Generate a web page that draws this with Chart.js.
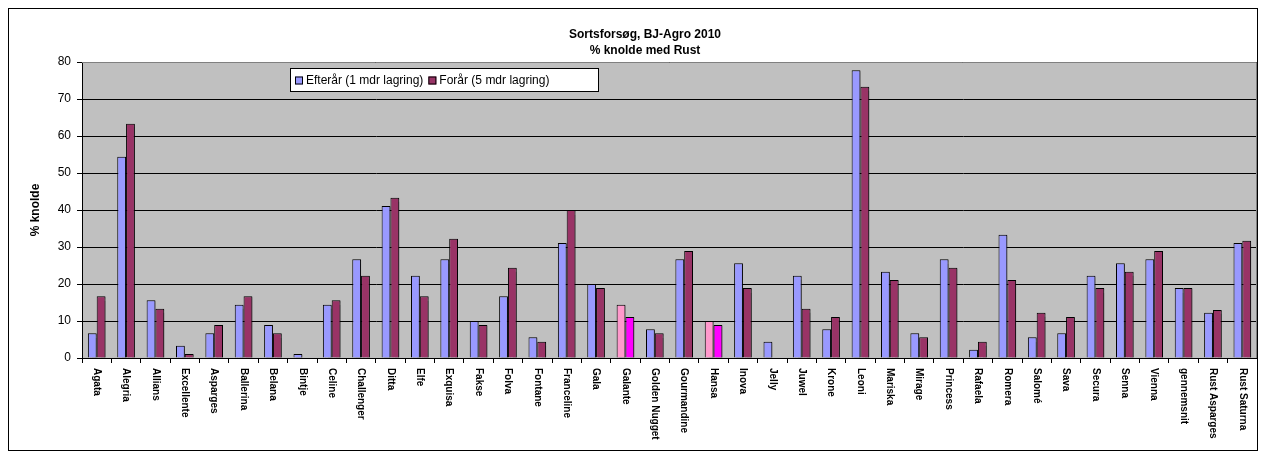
<!DOCTYPE html>
<html>
<head>
<meta charset="utf-8">
<script src="https://cdn.jsdelivr.net/npm/chart.js@4"></script>
<style>
  html, body { margin: 0; padding: 0; background: #fff; }
  #wrap { width: 1266px; height: 459px; position: relative; }
</style>
</head>
<body>
<div id="wrap"><canvas id="chart"></canvas></div>
<script>
var categories = ["Agata", "Alegria", "Allians", "Excellente", "Asparges", "Ballerina", "Belana", "Bintje",
  "Celine", "Challenger", "Ditta", "Elfe", "Exquisa", "Fakse", "Folva", "Fontane", "Franceline", "Gala",
  "Galante", "Golden Nugget", "Gourmandine", "Hansa", "Inova", "Jelly", "Juwel", "Krone", "Leoni",
  "Mariska", "Mirage", "Princess", "Rafaela", "Romera", "Salomé", "Sava", "Secura", "Senna", "Vienna",
  "gennemsnit", "Rust Asparges", "Rust Saturna"];

var efteraar = [6.7, 54.4, 15.6, 3.3, 6.7, 14.4, 8.9, 1.1, 14.4, 26.7, 41.1, 22.2, 26.7, 10.0, 16.7, 5.6,
  31.1, 20.0, 14.4, 7.8, 26.7, 10.0, 25.6, 4.4, 22.2, 7.8, 77.8, 23.3, 6.7, 26.7, 2.2, 33.3, 5.6, 6.7,
  22.2, 25.6, 26.7, 18.9, 12.2, 31.1];

var foraar = [16.7, 63.3, 13.3, 1.1, 8.9, 16.7, 6.7, 0, 15.6, 22.2, 43.3, 16.7, 32.2, 8.9, 24.4, 4.4,
  40.0, 18.9, 11.1, 6.7, 28.9, 8.9, 18.9, 0, 13.3, 11.1, 73.3, 21.1, 5.6, 24.4, 4.4, 21.1, 12.2, 11.1,
  18.9, 23.3, 28.9, 18.9, 13.0, 31.7];

var seriesNames = ["Efterår (1 mdr lagring)", "Forår (5 mdr lagring)"];
var titleLines = ["Sortsforsøg, BJ-Agro 2010", "% knolde med Rust"];
var yTitle = "% knolde";
var highlighted = ["Galante", "Hansa"];

var FONT = "'Liberation Sans', Arial, sans-serif";

function colorsFor(normal, special) {
  return categories.map(function (c) { return highlighted.indexOf(c) >= 0 ? special : normal; });
}

var framePlugin = {
  id: 'frame',
  beforeDraw: function (chart) {
    var ctx = chart.ctx;
    ctx.save();
    ctx.fillStyle = '#fff';
    ctx.fillRect(0, 0, chart.width, chart.height);
    ctx.strokeStyle = '#000';
    ctx.lineWidth = 1;
    ctx.strokeRect(8.5, 8.5, 1249, 442);
    var a = chart.chartArea;
    ctx.fillStyle = '#c0c0c0';
    ctx.fillRect(a.left, a.top, a.right - a.left, a.bottom - a.top);
    ctx.restore();
  },
  beforeDatasetsDraw: function (chart) {
    var ctx = chart.ctx;
    ctx.save();
    ctx.shadowColor = 'rgba(0,0,0,0.35)';
    ctx.shadowOffsetX = 2;
    ctx.shadowOffsetY = 1;
    ctx.shadowBlur = 1;
  },
  afterDatasetsDraw: function (chart) {
    var ctx = chart.ctx;
    ctx.restore();
    var a = chart.chartArea;
    ctx.save();
    ctx.strokeStyle = '#808080';
    ctx.lineWidth = 1;
    ctx.beginPath();
    ctx.moveTo(a.left, a.top + 0.5);
    ctx.lineTo(a.right - 0.5, a.top + 0.5);
    ctx.lineTo(a.right - 0.5, a.bottom);
    ctx.stroke();
    ctx.restore();
  },
  afterDraw: function (chart) {
    var ctx = chart.ctx;
    var xs = chart.scales.x;
    ctx.save();
    // title
    ctx.fillStyle = '#000';
    ctx.font = 'bold 12px ' + FONT;
    ctx.textAlign = 'center';
    ctx.textBaseline = 'middle';
    ctx.fillText(titleLines[0], 645, 35);
    ctx.fillText(titleLines[1], 645, 51);

    // category labels, rotated clockwise
    ctx.font = 'bold 10px ' + FONT;
    ctx.textAlign = 'left';
    ctx.textBaseline = 'middle';
    categories.forEach(function (c, i) {
      var x = xs.getPixelForValue(i);
      ctx.save();
      ctx.translate(x, 368);
      ctx.rotate(Math.PI / 2);
      ctx.fillText(c, 0, 0);
      ctx.restore();
    });

    // legend box
    var lx = 290, ly = 68, lw = 308, lh = 23;
    ctx.fillStyle = '#fff';
    ctx.fillRect(lx, ly, lw, lh);
    ctx.strokeStyle = '#000';
    ctx.strokeRect(lx + 0.5, ly + 0.5, lw, lh);
    ctx.font = '12px ' + FONT;
    var cx = lx + 5;
    var cy = ly + lh / 2 + 1;
    chart.data.datasets.forEach(function (ds) {
      ctx.fillStyle = ds.legendColor;
      ctx.fillRect(cx, cy - 4, 8, 8);
      ctx.strokeStyle = '#000';
      ctx.strokeRect(cx + 0.5, cy - 3.5, 7, 7);
      ctx.fillStyle = '#000';
      ctx.fillText(ds.label, cx + 11, cy);
      cx += 11 + ctx.measureText(ds.label).width + 5;
    });
    ctx.restore();
  }
};

new Chart('chart', {
  type: 'bar',
  data: {
    labels: categories,
    datasets: [
      {
        label: seriesNames[0],
        data: efteraar,
        backgroundColor: colorsFor('#9999ff', '#ff99cc'),
        legendColor: '#9999ff',
        borderColor: '#000',
        borderWidth: 1,
        categoryPercentage: 0.6,
        barPercentage: 1.0
      },
      {
        label: seriesNames[1],
        data: foraar,
        backgroundColor: colorsFor('#993366', '#ff00ff'),
        legendColor: '#993366',
        borderColor: '#000',
        borderWidth: 1,
        categoryPercentage: 0.6,
        barPercentage: 1.0
      }
    ]
  },
  options: {
    responsive: true,
    maintainAspectRatio: false,
    animation: false,
    layout: { padding: { top: 62, right: 9, bottom: 0, left: 20 } },
    plugins: {
      legend: { display: false },
      title: { display: false },
      tooltip: { enabled: false }
    },
    scales: {
      x: {
        ticks: { display: false },
        grid: {
          drawOnChartArea: false,
          drawTicks: true,
          tickLength: 5,
          color: '#000'
        },
        border: { color: '#000', width: 1 },
        afterFit: function (scale) { scale.height = 101; }
      },
      y: {
        min: 0,
        max: 80,
        ticks: {
          stepSize: 10,
          color: '#000',
          padding: 6,
          font: { family: FONT, size: 12 }
        },
        grid: {
          color: '#000',
          tickLength: 5
        },
        border: { color: '#000', width: 1 },
        title: {
          display: true,
          text: yTitle,
          color: '#000',
          font: { family: FONT, size: 12, weight: 'bold' },
          padding: { top: 8, bottom: 0 }
        },
        afterFit: function (scale) { scale.width = 62; }
      }
    }
  },
  plugins: [framePlugin]
});
</script>
</body>
</html>
